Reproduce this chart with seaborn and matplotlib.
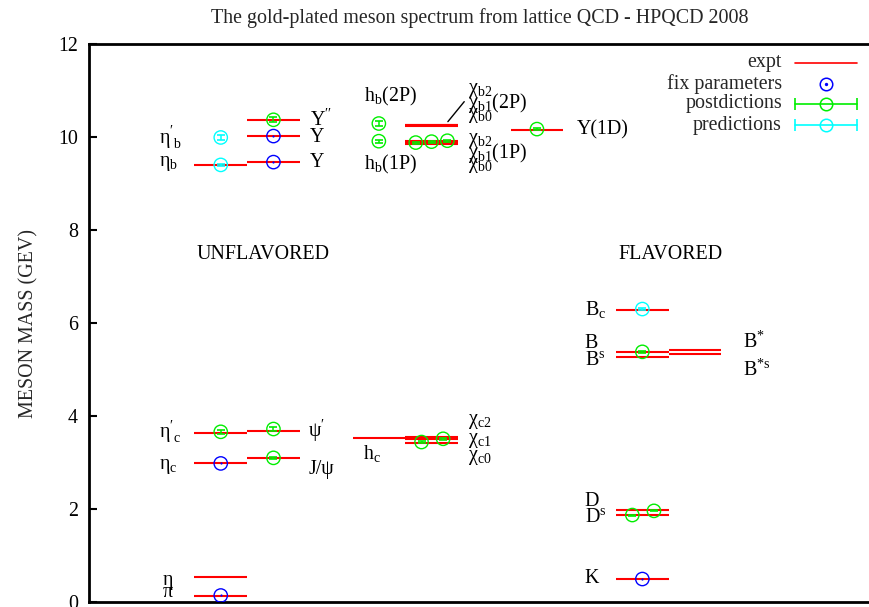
import numpy as np
import pandas as pd
import matplotlib
matplotlib.use("Agg")
import matplotlib.pyplot as plt
import seaborn as sns

# ---------------- data ----------------
# experimental levels (GeV) and the column (x start) they are drawn in
expt_names = ["pi", "eta", "eta_c", "eta_c'", "J/psi", "psi'", "h_c",
              "chi_c0", "chi_c1", "chi_c2", "eta_b", "Y", "Y'", "Y''",
              "chi_b0(1P)", "chi_b1(1P)", "chi_b2(1P)",
              "chi_b0(2P)", "chi_b1(2P)", "chi_b2(2P)", "Y(1D)",
              "K", "D", "D_s", "B", "B_s", "B_c", "B*", "B*_s"]
expt_mass = [0.1396, 0.5479, 2.9803, 3.637, 3.0969, 3.6861, 3.5253,
             3.4148, 3.5107, 3.5562, 9.391, 9.4603, 10.0233, 10.3552,
             9.8594, 9.8928, 9.9122, 10.2325, 10.2555, 10.2687, 10.1611,
             0.4937, 1.8696, 1.9685, 5.2795, 5.3663, 6.277, 5.3252, 5.4154]
expt_col = [2, 2, 2, 2, 3, 3, 5, 6, 6, 6, 2, 3, 3, 3, 6, 6, 6, 6, 6, 6, 8,
            10, 10, 10, 10, 10, 10, 11, 11]

# lattice results: fix parameters
fix_x = [2.5, 2.5, 3.5, 3.5, 10.5]
fix_m = [0.14, 2.98, 9.46, 10.02, 0.494]

# postdictions
post_x = [2.5, 3.5, 3.5, 6.31, 6.72, 3.5, 5.5, 5.5, 6.2, 6.5, 6.8, 8.5,
          10.5, 10.31, 10.72]
post_m = [3.66, 3.10, 3.72, 3.44, 3.51, 10.37, 10.29, 9.91, 9.88, 9.90,
          9.92, 10.17, 5.38, 1.87, 1.96]
post_err = [0.04, 0.02, 0.05, 0.02, 0.02, 0.05, 0.05, 0.03, 0.02, 0.02,
            0.02, 0.02, 0.02, 0.01, 0.01]

# predictions
pred_x = [2.5, 2.5, 10.5]
pred_m = [9.40, 9.99, 6.30]
pred_err = [0.02, 0.05, 0.02]

y_ticks = [0, 2, 4, 6, 8, 10, 12]

# state labels: (text, x, y)
labels = [
    ("η$^{\\prime}_{\\ \\mathrm{b}}$", 1.33, 9.98),
    ("η$_\\mathrm{b}$", 1.33, 9.42),
    ("Υ$^{\\prime\\prime}$", 4.19, 10.37),
    ("Υ", 4.19, 10.0),
    ("Υ", 4.19, 9.46),
    ("h$_\\mathrm{b}$(2P)", 5.22, 10.87),
    ("h$_\\mathrm{b}$(1P)", 5.22, 9.40),
    ("χ$_\\mathrm{b2}$", 7.19, 11.01),
    ("χ$_\\mathrm{b1}$(2P)", 7.19, 10.74),
    ("χ$_\\mathrm{b0}$", 7.19, 10.46),
    ("χ$_\\mathrm{b2}$", 7.19, 9.92),
    ("χ$_\\mathrm{b1}$(1P)", 7.19, 9.66),
    ("χ$_\\mathrm{b0}$", 7.19, 9.38),
    ("Υ(1D)", 9.26, 10.15),
    ("η$^{\\prime}_{\\ \\mathrm{c}}$", 1.33, 3.66),
    ("η$_\\mathrm{c}$", 1.33, 2.91),
    ("ψ$^{\\prime}$", 4.16, 3.68),
    ("J/ψ", 4.16, 2.84),
    ("h$_\\mathrm{c}$", 5.2, 3.2),
    ("χ$_\\mathrm{c2}$", 7.19, 3.88),
    ("χ$_\\mathrm{c1}$", 7.19, 3.48),
    ("χ$_\\mathrm{c0}$", 7.19, 3.10),
    ("η", 1.4, 0.46),
    ("π", 1.4, 0.20),
    ("B$_\\mathrm{c}$", 9.41, 6.28),
    ("B", 9.41, 5.55),
    ("B$^\\mathrm{s}$", 9.41, 5.2),
    ("B$^{*}$", 12.41, 5.59),
    ("B$^{*\\mathrm{s}}$", 12.41, 4.99),
    ("D", 9.41, 2.17),
    ("D$^\\mathrm{s}$", 9.41, 1.81),
    ("K", 9.41, 0.5),
]
group_labels = [("UNFLAVORED", 3.3, 7.48), ("FLAVORED", 11.04, 7.48)]

# ---------------- style ----------------
sns.set_theme(style="white")
plt.rcParams["font.family"] = ["Liberation Serif", "DejaVu Serif"]
plt.rcParams["mathtext.fontset"] = "custom"
plt.rcParams["mathtext.rm"] = "Liberation Serif"
plt.rcParams["mathtext.it"] = "Liberation Serif:italic"
plt.rcParams["mathtext.bf"] = "Liberation Serif:bold"

FS = 14.4
RED, BLUE, GREEN, CYAN = "#ff0000", "#0000ff", "#00ee00", "#00ffff"

fig = plt.figure(figsize=(8.7, 6.07), dpi=100)
ax = fig.add_axes([89 / 870, 1 - 602 / 607, 781 / 870, 558 / 607])

expt = pd.DataFrame({"name": expt_names, "mass": expt_mass, "col": expt_col})
ax.hlines(expt["mass"], expt["col"], expt["col"] + 1, color=RED, lw=1.5,
          zorder=2)

fix = pd.DataFrame({"x": fix_x, "m": fix_m})
post = pd.DataFrame({"x": post_x, "m": post_m, "e": post_err})
pred = pd.DataFrame({"x": pred_x, "m": pred_m, "e": pred_err})

ms = 92
sns.scatterplot(data=fix, x="x", y="m", ax=ax, marker="o", s=ms,
                facecolor="none", edgecolor=BLUE, linewidth=1.0, zorder=4,
                legend=False)
sns.scatterplot(data=fix, x="x", y="m", ax=ax, marker="o", s=2.5,
                color=BLUE, linewidth=0, zorder=4, legend=False)
for df, col in ((post, GREEN), (pred, CYAN)):
    ax.errorbar(df["x"], df["m"], yerr=df["e"], fmt="none", ecolor=col,
                elinewidth=1.1, capsize=2.6, capthick=1.2, zorder=3)
    sns.scatterplot(data=df, x="x", y="m", ax=ax, marker="o", s=ms,
                    facecolor="none", edgecolor=col, linewidth=1.0,
                    zorder=4, legend=False)

for txt, x, y in labels:
    ax.text(x, y, txt, fontsize=FS, ha="left", va="center", color="black")
for txt, x, y in group_labels:
    ax.text(x, y, txt, fontsize=FS, ha="center", va="center", color="black")
# pointer line for chi_b(2P)
ax.plot([6.81, 7.12], [10.33, 10.76], color="black", lw=1.0)

ax.set_xlim(0, 781 / 52.7)
ax.set_ylim(0, 12)
ax.set_yticks(y_ticks)
ax.set_yticklabels([str(t) for t in y_ticks], fontsize=FS)
ax.set_xticks([])
ax.tick_params(axis="y", direction="in", length=6, width=1.5, pad=8,
               left=True, colors="black")
for s in ("left", "top", "bottom"):
    ax.spines[s].set_visible(True)
    ax.spines[s].set_linewidth(2)
    ax.spines[s].set_color("black")
ax.spines["right"].set_visible(False)
ax.set_xlabel("")
ax.set_ylabel("MESON MASS (GEV)", fontsize=FS, labelpad=14)
ax.set_title("The gold-plated meson spectrum from lattice QCD - HPQCD 2008",
             fontsize=FS, pad=15)

# legend (key box drawn in axes fraction)
tr = ax.transAxes
ly = [0.966, 0.9283, 0.8925, 0.8548]
lt = ["expt", "fix parameters", "postdictions", "predictions"]
xt, x0, x1, xc = 0.8873, 0.904, 0.9834, 0.9437
for t, y in zip(lt, ly):
    ax.text(xt, y, t, transform=tr, fontsize=FS, ha="right", va="center")
ax.plot([x0, x1], [ly[0]] * 2, transform=tr, color=RED, lw=1.2)
ax.plot([xc], [ly[1]], transform=tr, marker="o", ms=9, mfc="none",
        mec=BLUE, mew=1.1)
ax.plot([xc], [ly[1]], transform=tr, marker="o", ms=1.4, color=BLUE)
for y, col in ((ly[2], GREEN), (ly[3], CYAN)):
    ax.plot([x0, x1], [y, y], transform=tr, color=col, lw=1.2,
            marker="|", ms=8, mew=1.2)
    ax.plot([xc], [y], transform=tr, marker="o", ms=9, mfc="none",
            mec=col, mew=1.1)

fig.savefig("out.png", dpi=100)
